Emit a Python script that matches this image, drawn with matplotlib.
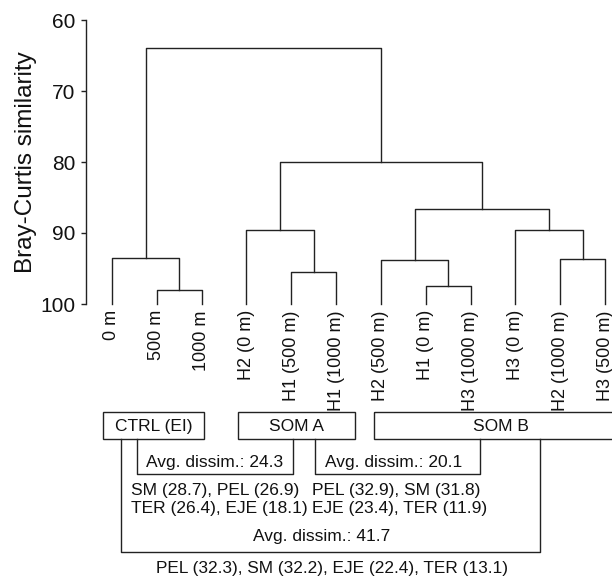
import matplotlib.pyplot as plt
from matplotlib.patches import Rectangle

plt.rcParams['font.family'] = ['Liberation Sans', 'DejaVu Sans']

# leaves of the dendrogram, left to right
leaf_labels = ["0 m", "500 m", "1000 m",
               "H2 (0 m)", "H1 (500 m)", "H1 (1000 m)",
               "H2 (500 m)", "H1 (0 m)", "H3 (1000 m)",
               "H3 (0 m)", "H2 (1000 m)", "H3 (500 m)"]

# merges: node 12+k joins merge_left[k] and merge_right[k] at merge_height[k]
merge_left = [1, 0, 4, 3, 7, 6, 10, 9, 17, 15, 13]
merge_right = [2, 12, 5, 14, 8, 16, 11, 18, 19, 20, 21]
merge_height = [98.0, 93.5, 95.5, 89.6, 97.5, 93.8, 93.7, 89.6, 86.6, 80.0, 63.9]

yticks = [60, 70, 80, 90, 100]

group_names = ["CTRL (EI)", "SOM A", "SOM B"]
pair_dissim = ["Avg. dissim.: 24.3", "Avg. dissim.: 20.1"]
pair_species = [["SM (28.7), PEL (26.9)", "TER (26.4), EJE (18.1)"],
                ["PEL (32.9), SM (31.8)", "EJE (23.4), TER (11.9)"]]
all_dissim = "Avg. dissim.: 41.7"
all_species = "PEL (32.3), SM (32.2), EJE (22.4), TER (13.1)"

W, H = 612, 576
fig = plt.figure(figsize=(W / 100, H / 100), dpi=100)
ax = fig.add_axes([86 / W, 1 - 304 / H, (W - 86) / W, 284 / H])

lc = "#222222"
tc = "#111111"
lw = 1.0
pos = {i: (float(i), 100.0) for i in range(len(leaf_labels))}
for k, (l, r, h) in enumerate(zip(merge_left, merge_right, merge_height)):
    xl, hl = pos[l]
    xr, hr = pos[r]
    ax.plot([xl, xl, xr, xr], [hl, h, h, hr], color=lc, lw=lw, clip_on=False)
    pos[len(leaf_labels) + k] = ((xl + xr) / 2, h)

ax.set_ylim(100, 60)
ax.set_xlim(-0.58, 11.156)
ax.set_yticks(yticks)
ax.tick_params(axis='y', labelsize=15, length=3.5, width=lw, color=lc, pad=4,
               labelcolor=tc)
ax.set_xticks(range(len(leaf_labels)))
ax.set_xticklabels(leaf_labels, rotation=90, va='top', ha='center', fontsize=13,
                   color=tc)
ax.tick_params(axis='x', length=0, pad=4.5)
for s in ['top', 'right', 'bottom']:
    ax.spines[s].set_visible(False)
ax.spines['left'].set_linewidth(lw)
ax.spines['left'].set_color(lc)
ax.set_ylabel("Bray-Curtis similarity", fontsize=17.5, labelpad=2.5, color=tc)
ax.patch.set_visible(False)

# annotation layer in pixel units
ov = fig.add_axes([0, 0, 1, 1])
ov.set_xlim(0, W)
ov.set_ylim(H, 0)
ov.axis('off')
ov.patch.set_visible(False)

box_x = [(103, 204), (238, 355), (374, 650)]
box_top, box_bot = 412, 439
for name, (x0, x1) in zip(group_names, box_x):
    ov.add_patch(Rectangle((x0, box_top), x1 - x0, box_bot - box_top,
                           fill=False, ec=lc, lw=lw, clip_on=False))
    cx = (x0 + min(x1, 627)) / 2
    ov.text(cx, (box_top + box_bot) / 2 + 1, name, ha='center', va='center',
            fontsize=12.5, color=tc)

tfs = 12.5
# pair brackets
pair_x = [(137, 293), (315, 480)]
pair_text_x = [215, 394]
pair_left = [131, 312]
for (x0, x1), tx, lx, d, sp in zip(pair_x, pair_text_x, pair_left, pair_dissim, pair_species):
    ov.plot([x0, x0, x1, x1], [box_bot, 474, 474, box_bot], color=lc, lw=lw)
    ov.text(tx, 462, d, ha='center', va='center', fontsize=tfs, color=tc)
    ov.text(lx, 490, sp[0], ha='left', va='center', fontsize=tfs, color=tc)
    ov.text(lx, 509, sp[1], ha='left', va='center', fontsize=tfs, color=tc)

# overall bracket
ov.plot([121, 121, 540, 540], [box_bot, 552, 552, box_bot], color=lc, lw=lw)
ov.text(322, 537, all_dissim, ha='center', va='center', fontsize=tfs, color=tc)
ov.text(332, 568, all_species, ha='center', va='center', fontsize=12.4, color=tc)

fig.savefig("out.png", dpi=100)
